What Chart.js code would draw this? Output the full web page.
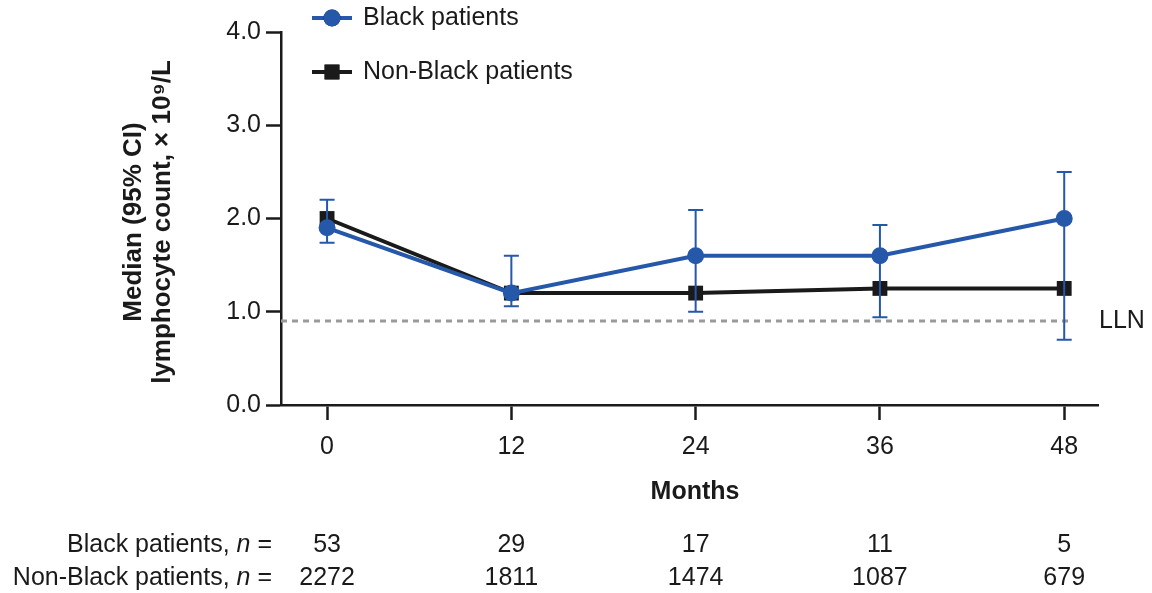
<!DOCTYPE html>
<html>
<head>
<meta charset="utf-8">
<title>Lymphocyte count over time</title>
<script src="https://cdn.jsdelivr.net/npm/chart.js@4.4.1/dist/chart.umd.min.js"></script>
<style>
  html, body { margin: 0; padding: 0; background: #ffffff; }
  #wrap { width: 1152px; height: 593px; position: relative; }
</style>
</head>
<body>
<div id="wrap"><canvas id="chart" width="1152" height="593"></canvas></div>
<script>
// ---- data ----
const months = [0, 12, 24, 36, 48];
const blackMedian = [1.9, 1.2, 1.6, 1.6, 2.0];
const blackLower = [1.74, 1.06, 1.0, 0.94, 0.7];
const blackUpper = [2.2, 1.6, 2.09, 1.93, 2.5];
const nonBlackMedian = [2.0, 1.2, 1.2, 1.25, 1.25];
const blackN = [53, 29, 17, 11, 5];
const nonBlackN = [2272, 1811, 1474, 1087, 679];
const yTicks = [0, 1, 2, 3, 4];
const llnValue = 0.9;
const llnSpan = [-3, 48.5];
const seriesNames = ['Black patients', 'Non-Black patients'];

// ---- style ----
const FONT = '"Liberation Sans", Arial, Helvetica, sans-serif';
const SIZE = 25;
const BLUE = '#2658aa';
const INK = '#1a1a1a';
const GREY = '#9a9a9a';

Chart.defaults.font.family = FONT;
Chart.defaults.color = INK;

const toPoints = (ys) => months.map((m, i) => ({ x: m, y: ys[i] }));

// error bars, legend, titles and the patients-at-risk table
const extras = {
  id: 'extras',
  afterDatasetsDraw(chart) {
    const { ctx, scales: { x, y } } = chart;
    ctx.save();
    ctx.strokeStyle = BLUE;
    ctx.lineWidth = 2;
    const cap = 7.5;
    months.forEach((m, i) => {
      const px = x.getPixelForValue(m);
      const lo = y.getPixelForValue(blackLower[i]);
      const hi = y.getPixelForValue(blackUpper[i]);
      ctx.beginPath();
      ctx.moveTo(px, lo); ctx.lineTo(px, hi);
      ctx.moveTo(px - cap, lo); ctx.lineTo(px + cap, lo);
      ctx.moveTo(px - cap, hi); ctx.lineTo(px + cap, hi);
      ctx.stroke();
    });
    ctx.restore();
  },
  afterDraw(chart) {
    const { ctx, scales: { x, y } } = chart;
    ctx.save();
    ctx.fillStyle = INK;
    ctx.textBaseline = 'middle';

    // legend
    const legendRows = [
      { ds: chart.data.datasets[0], y: 18 },
      { ds: chart.data.datasets[1], y: 72 }
    ];
    legendRows.forEach((row, i) => {
      ctx.strokeStyle = row.ds.borderColor;
      ctx.lineWidth = row.ds.borderWidth;
      ctx.beginPath();
      ctx.moveTo(312, row.y); ctx.lineTo(352, row.y);
      ctx.stroke();
      Chart.helpers.drawPoint(ctx, {
        pointStyle: row.ds.pointStyle,
        radius: row.ds.pointRadius,
        borderWidth: 0,
        rotation: 0
      }, 332, row.y);
      ctx.fillStyle = row.ds.backgroundColor;
      ctx.fill();
      ctx.fillStyle = INK;
      ctx.font = SIZE + 'px ' + FONT;
      ctx.textAlign = 'left';
      ctx.fillText(seriesNames[i], 363, row.y);
    });

    // y axis title
    ctx.save();
    ctx.translate(134, 222);
    ctx.rotate(-Math.PI / 2);
    ctx.textAlign = 'center';
    ctx.font = 'bold 26px ' + FONT;
    ctx.fillText('Median (95% CI)', 0, 0);
    ctx.fillText('lymphocyte count, \u00d7 10\u2079/L', 0, 29);
    ctx.restore();

    // x axis title
    ctx.font = 'bold ' + SIZE + 'px ' + FONT;
    ctx.textAlign = 'center';
    ctx.fillText('Months', 695, 492);

    // LLN label
    ctx.font = SIZE + 'px ' + FONT;
    ctx.textAlign = 'left';
    ctx.fillText('LLN', 1099, y.getPixelForValue(llnValue));

    // number of patients table
    const rows = [
      { label: 'Black patients, ', vals: blackN, y: 545 },
      { label: 'Non-Black patients, ', vals: nonBlackN, y: 578 }
    ];
    rows.forEach(r => {
      const right = 272;
      ctx.font = SIZE + 'px ' + FONT;
      const tail = ' =';
      const wTail = ctx.measureText(tail).width;
      ctx.font = 'italic ' + SIZE + 'px ' + FONT;
      const wN = ctx.measureText('n').width;
      ctx.font = SIZE + 'px ' + FONT;
      const wLab = ctx.measureText(r.label).width;
      ctx.textAlign = 'left';
      let cx = right - wTail - wN - wLab;
      ctx.fillText(r.label, cx, r.y); cx += wLab;
      ctx.font = 'italic ' + SIZE + 'px ' + FONT;
      ctx.fillText('n', cx, r.y); cx += wN;
      ctx.font = SIZE + 'px ' + FONT;
      ctx.fillText(tail, cx, r.y);
      ctx.textAlign = 'center';
      r.vals.forEach((v, i) => {
        ctx.fillText(String(v), x.getPixelForValue(months[i]), r.y);
      });
    });
    ctx.restore();
  }
};

const axisCommon = {
  border: { display: true, color: INK, width: 2.5 },
  grid: {
    drawOnChartArea: false,
    drawTicks: true,
    tickLength: 15,
    tickWidth: 2.5,
    tickColor: INK
  }
};

new Chart(document.getElementById('chart'), {
  type: 'line',
  data: {
    datasets: [
      {
        label: seriesNames[0],
        data: toPoints(blackMedian),
        borderColor: BLUE,
        backgroundColor: BLUE,
        borderWidth: 4,
        pointStyle: 'circle',
        pointRadius: 8.5,
        pointBorderWidth: 0,
        pointBackgroundColor: BLUE,
        tension: 0
      },
      {
        label: seriesNames[1],
        data: toPoints(nonBlackMedian),
        borderColor: INK,
        backgroundColor: INK,
        borderWidth: 4,
        pointStyle: 'rect',
        pointRadius: 10.5,
        pointBorderWidth: 0,
        pointBackgroundColor: INK,
        tension: 0
      },
      {
        label: 'LLN',
        data: llnSpan.map(v => ({ x: v, y: llnValue })),
        borderColor: GREY,
        borderWidth: 3,
        borderDash: [6, 5],
        pointRadius: 0,
        tension: 0
      }
    ]
  },
  options: {
    responsive: false,
    devicePixelRatio: 1,
    animation: false,
    layout: { padding: { top: 32, right: 54, left: 0, bottom: 0 } },
    plugins: { legend: { display: false }, tooltip: { enabled: false } },
    scales: {
      x: {
        type: 'linear',
        min: -3,
        max: 50.2,
        ...axisCommon,
        afterBuildTicks: s => { s.ticks = months.map(v => ({ value: v })); },
        afterFit: s => { s.height = 188; },
        ticks: { font: { size: SIZE }, color: INK, padding: 12, maxRotation: 0 }
      },
      y: {
        min: 0,
        max: 4,
        ...axisCommon,
        afterBuildTicks: s => { s.ticks = yTicks.map(v => ({ value: v })); },
        afterFit: s => { s.width = 281; },
        ticks: { font: { size: SIZE }, color: INK, padding: 5, callback: v => v.toFixed(1) }
      }
    }
  },
  plugins: [extras]
});
</script>
</body>
</html>
